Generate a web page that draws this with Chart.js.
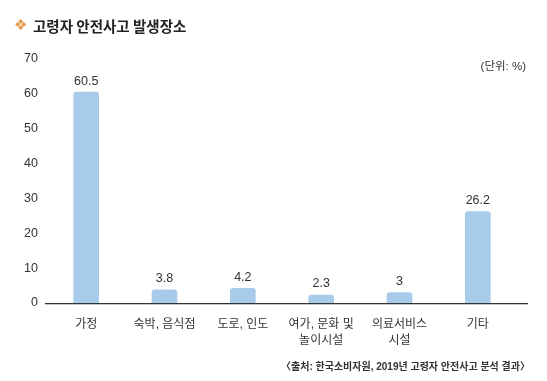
<!DOCTYPE html>
<html><head><meta charset="utf-8">
<script src="https://cdn.jsdelivr.net/npm/chart.js@4"></script>
<style>html,body{margin:0;padding:0;background:#fff}#w{width:547px;height:381px;position:relative}</style>
</head><body><div id="w"><canvas id="c" width="547" height="381"></canvas></div>
<script>
const categories = [["가정"], ["숙박, 음식점"], ["도로, 인도"], ["여가, 문화 및","놀이시설"], ["의료서비스","시설"], ["기타"]];
const values = [60.5, 3.8, 4.2, 2.3, 3, 26.2];
const valueLabels = ["60.5", "3.8", "4.2", "2.3", "3", "26.2"];
const yTicks = [0, 10, 20, 30, 40, 50, 60, 70];
const titleText = "고령자 안전사고 발생장소";
const unitText = "(단위: %)";
const sourceText = "〈출처: 한국소비자원, 2019년 고령자 안전사고 분석 결과〉";

const FONT = "'Liberation Sans', 'Noto Sans CJK KR', sans-serif";
const KFONT = "'Noto Sans CJK KR', sans-serif";

const deco = {
  id: 'deco',
  afterDraw(chart) {
    const ctx = chart.ctx;
    const a = chart.chartArea;
    ctx.save();
    // baseline
    ctx.fillStyle = '#333';
    ctx.fillRect(45, a.bottom, 483, 1);
    ctx.fillStyle = '#c8c8c0';
    ctx.fillRect(45, a.bottom + 1, 483, 1);
    // value labels
    const meta = chart.getDatasetMeta(0);
    ctx.fillStyle = '#333';
    ctx.font = "12.5px " + FONT;
    ctx.textAlign = 'center';
    ctx.textBaseline = 'middle';
    meta.data.forEach((bar, i) => {
      ctx.fillText(valueLabels[i], bar.x, bar.y - 11);
    });
    // title
    ctx.textAlign = 'left';
    ctx.fillStyle = '#e59a4f';
    ctx.font = "15px 'DejaVu Sans', sans-serif";
    ctx.fillText("❖", 14, 26);
    ctx.fillStyle = '#222';
    ctx.font = "bold 14.5px " + KFONT;
    ctx.fillText(titleText, 33, 26);
    // unit
    ctx.textAlign = 'right';
    ctx.fillStyle = '#333';
    ctx.font = "11.5px " + FONT;
    ctx.fillText(unitText, 526, 67);
    // source
    ctx.font = "bold 10px " + FONT;
    ctx.fillStyle = '#333';
    ctx.fillText(sourceText, 530, 367);
    ctx.restore();
  }
};

new Chart(document.getElementById('c'), {
  type: 'bar',
  data: {
    labels: categories,
    datasets: [{
      data: values,
      backgroundColor: '#a9cbeb',
      borderRadius: {topLeft: 3, topRight: 3},
      borderSkipped: 'bottom',
      barThickness: 25
    }]
  },
  options: {
    responsive: false,
    animation: false,
    devicePixelRatio: 1,
    layout: { padding: { top: 59, right: 30, bottom: 0, left: 0 } },
    plugins: { legend: { display: false }, tooltip: { enabled: false }, title: { display: false } },
    scales: {
      x: {
        grid: { display: false, drawTicks: false },
        border: { display: false },
        ticks: { color: '#333', font: { family: FONT, size: 12, lineHeight: '16px' }, padding: 14, maxRotation: 0, autoSkip: false },
        afterFit(s) { s.height = 78; }
      },
      y: {
        min: 0, max: 70,
        afterBuildTicks(s) { s.ticks = yTicks.map(v => ({ value: v })); },
        grid: { display: false, drawTicks: false },
        border: { display: false },
        ticks: { color: '#333', font: { family: FONT, size: 12.5 }, padding: 9 },
        afterFit(s) { s.width = 47; }
      }
    }
  },
  plugins: [deco]
});
</script>
</body></html>
